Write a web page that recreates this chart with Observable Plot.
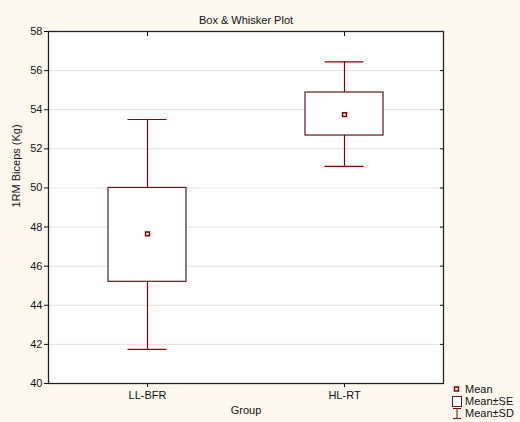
<!DOCTYPE html>
<html><head><meta charset="utf-8">
<script src="https://cdn.jsdelivr.net/npm/d3@7"></script>
<script src="https://cdn.jsdelivr.net/npm/@observablehq/plot@0.6"></script>
<style>
body{margin:0;background:#fdf9ee;font-family:"Liberation Sans",Arial,sans-serif;}
#wrap{position:relative;width:520px;height:422px;}
#legend{position:absolute;left:452px;top:383px;font-size:11px;color:#111;line-height:12px;}
#legend div{display:flex;align-items:center;height:12px;}
#legend svg{width:10px;height:12px;margin-right:3px;}
</style></head>
<body><div id="wrap"><div id="chart"></div>
<div id="legend">
<div><svg viewBox="0 0 10 12"><rect x="2.5" y="4" width="4" height="4" fill="#fff" stroke="#8b0000" stroke-width="1.5"/></svg>Mean</div>
<div><svg viewBox="0 0 10 12"><rect x="0.5" y="1.5" width="9" height="10" fill="#fff" stroke="#5a1a1a" stroke-width="1"/></svg>Mean±SE</div>
<div><svg viewBox="0 0 10 12"><line x1="1" y1="1.5" x2="9" y2="1.5" stroke="#8b0000"/><line x1="5" y1="1.5" x2="5" y2="11.5" stroke="#8b0000"/><line x1="1" y1="11.5" x2="9" y2="11.5" stroke="#8b0000"/></svg>Mean±SD</div>
</div></div>
<script>
const groups = ["LL-BFR", "HL-RT"];
const means = [47.65, 53.75];
const seLow = [45.2, 52.68];
const seHigh = [50.0, 54.88];
const sdLow = [41.75, 51.1];
const sdHigh = [53.5, 56.45];
const yTicks = [40, 42, 44, 46, 48, 50, 52, 54, 56, 58];

const data = groups.map((g, i) => ({group: g, mean: means[i], seLo: seLow[i], seHi: seHigh[i], sdLo: sdLow[i], sdHi: sdHigh[i]}));
const red = "#8b0000";

const chart = Plot.plot({
  width: 520, height: 422,
  marginLeft: 48, marginRight: 77, marginTop: 31, marginBottom: 39,
  style: {background: "transparent", fontFamily: "'Liberation Sans', Arial, sans-serif", fontSize: "11px", color: "#111"},
  x: {type: "band", domain: groups, paddingInner: 0.605, paddingOuter: 0.3025, label: null},
  y: {domain: [40, 58], label: null},
  marks: [
    Plot.frame({fill: "white"}),
    Plot.gridY(yTicks, {stroke: "#e2e2e2", strokeOpacity: 1}),
    Plot.axisY(yTicks, {tickSize: 4, tickPadding: 2, fontSize: 11}),
    Plot.axisY(yTicks, {anchor: "right", tickSize: -4, tickFormat: () => ""}),
    Plot.axisX({tickSize: 4, tickPadding: 4, fontSize: 11}),
    Plot.axisX({anchor: "top", tickSize: -4, tickFormat: () => ""}),
    Plot.ruleX(data, {x: "group", y1: "sdLo", y2: "sdHi", stroke: red, strokeWidth: 1.2}),
    Plot.tickY(data, {x: "group", y: "sdLo", stroke: red, strokeWidth: 1.2, insetLeft: 19.5, insetRight: 19.5}),
    Plot.tickY(data, {x: "group", y: "sdHi", stroke: red, strokeWidth: 1.2, insetLeft: 19.5, insetRight: 19.5}),
    Plot.barY(data, {x: "group", y1: "seLo", y2: "seHi", fill: "white", stroke: "#5a1a1a", strokeWidth: 1.2}),
    Plot.dot(data, {x: "group", y: "mean", symbol: "square", r: 2.2, fill: "white", stroke: red, strokeWidth: 1.5}),
    Plot.frame({stroke: "#222", strokeWidth: 1.3}),
    Plot.text(["Box & Whisker Plot"], {frameAnchor: "top", dy: -15, fontSize: 11, fill: "#111"}),
    Plot.text(["Group"], {frameAnchor: "bottom", dy: 30, fontSize: 11, fill: "#111"}),
    Plot.text(["1RM Biceps (Kg)"], {frameAnchor: "left", dx: -32, rotate: -90, fontSize: 11, fill: "#111"})
  ]
});
document.getElementById("chart").appendChild(chart);
</script>
</body></html>
